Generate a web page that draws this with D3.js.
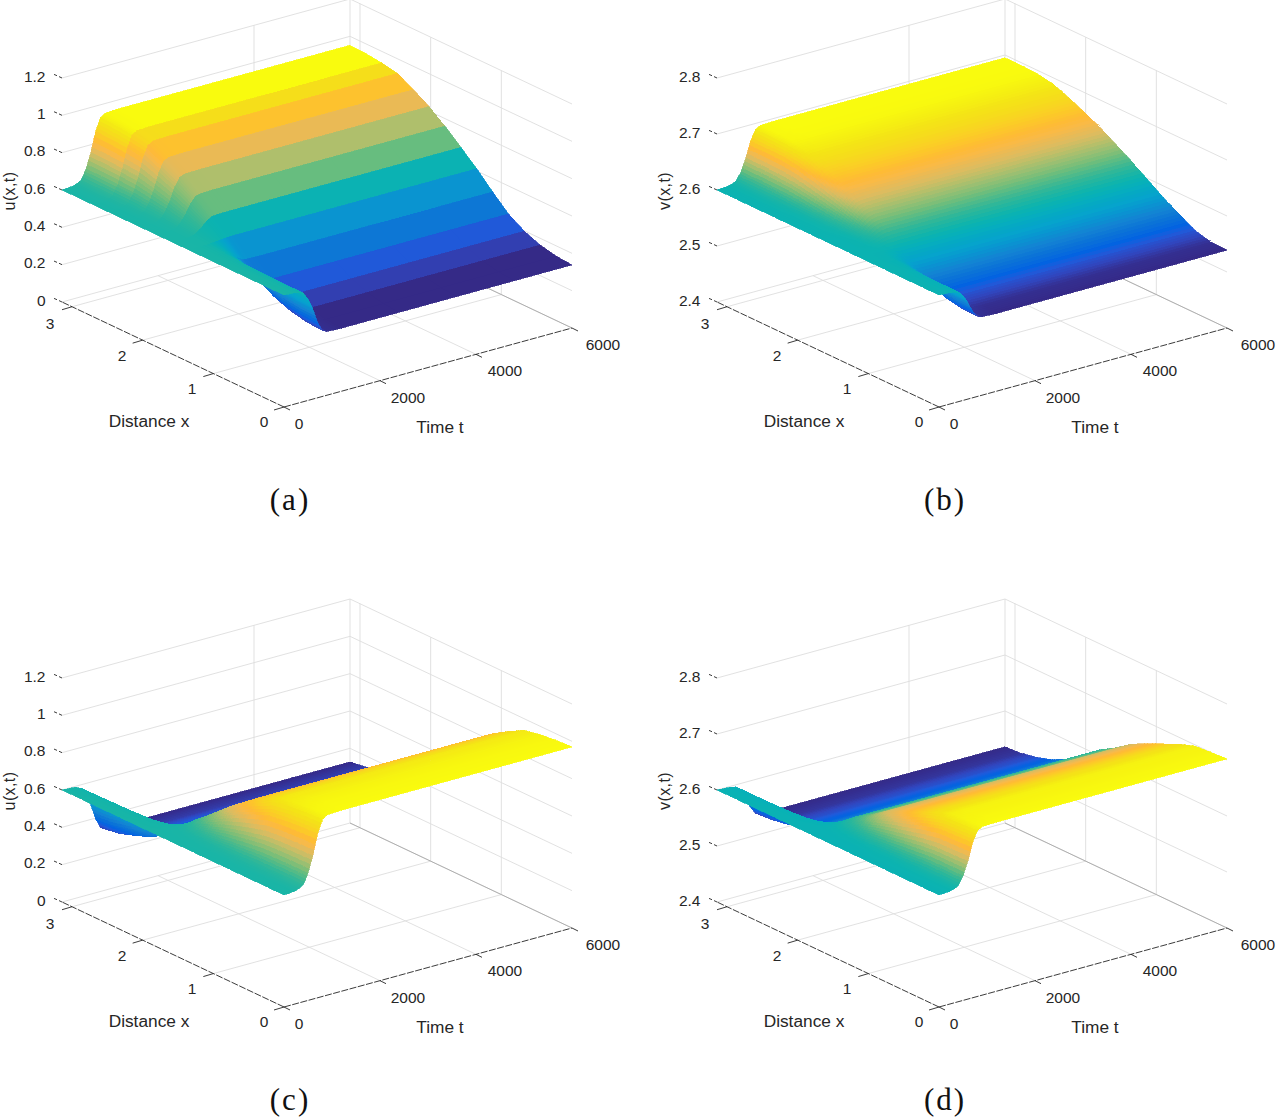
<!DOCTYPE html>
<html><head><meta charset="utf-8">
<script src="https://cdn.jsdelivr.net/npm/d3@7"></script>
<style>html,body{margin:0;padding:0;background:#fff}svg{display:block}</style>
</head><body><svg id="c" width="1276" height="1119"></svg>
<script>
// Mesh nodes
const xNodes = d3.range(15).map(i => i * Math.PI / 14);
const tNodes = [0,200,300,400,500,600,700,800,900,1200,6000];
const xTicks = [0,1,2,3];
const tTicks = [0,2000,4000,6000];
const uTicks = [0,0.2,0.4,0.6,0.8,1,1.2];
const vTicks = [2.4,2.5,2.6,2.7,2.8];
// mesh position whose value colours each x cell in panel (a)
const bandNode = [0,0,1.42,2.32,3.69,4.41,5.58,6.78,7.49,8.31,9.2,10.4,14,14];

// rows: t, columns: x
const uA = [
[.6,.6,.6,.6,.6,.6,.6,.6,.6,.6,.6,.6,.6,.6,.6],
[.597,.597,.598,.598,.599,.599,.6,.601,.602,.602,.603,.603,.603,.603,.604],
[.592,.592,.593,.594,.596,.598,.6,.603,.605,.607,.608,.61,.61,.61,.611],
[.582,.582,.583,.586,.59,.595,.601,.606,.611,.616,.619,.623,.624,.624,.625],
[.542,.544,.548,.556,.567,.584,.603,.619,.635,.65,.661,.671,.674,.677,.677],
[.482,.485,.494,.509,.533,.568,.605,.639,.672,.701,.724,.745,.752,.757,.758],
[.404,.409,.423,.449,.488,.546,.609,.665,.72,.769,.806,.842,.854,.861,.864],
[.354,.36,.378,.41,.459,.532,.611,.681,.75,.812,.859,.903,.918,.927,.931],
[.341,.348,.366,.4,.452,.529,.612,.685,.758,.823,.872,.919,.935,.945,.948],
[.338,.345,.364,.398,.45,.528,.612,.686,.76,.825,.875,.922,.938,.948,.952],
[.338,.345,.364,.398,.45,.528,.612,.686,.76,.825,.875,.922,.938,.948,.952]];
const vB = [
[2.6,2.6,2.6,2.6,2.6,2.6,2.6,2.6,2.6,2.6,2.6,2.6,2.6,2.6,2.6],
[2.599,2.599,2.599,2.6,2.6,2.6,2.6,2.6,2.601,2.601,2.601,2.601,2.601,2.601,2.601],
[2.598,2.598,2.598,2.599,2.599,2.6,2.601,2.601,2.602,2.602,2.602,2.603,2.603,2.603,2.603],
[2.596,2.596,2.596,2.597,2.599,2.6,2.601,2.602,2.604,2.605,2.605,2.606,2.607,2.607,2.607],
[2.587,2.587,2.588,2.592,2.595,2.6,2.604,2.607,2.611,2.614,2.617,2.62,2.621,2.621,2.621],
[2.573,2.573,2.576,2.583,2.591,2.599,2.608,2.615,2.623,2.629,2.635,2.64,2.642,2.643,2.643],
[2.554,2.555,2.56,2.572,2.584,2.599,2.613,2.626,2.638,2.649,2.659,2.667,2.671,2.671,2.671],
[2.543,2.544,2.55,2.565,2.58,2.598,2.616,2.632,2.648,2.661,2.673,2.684,2.688,2.689,2.689],
[2.54,2.541,2.548,2.563,2.579,2.598,2.617,2.634,2.65,2.664,2.677,2.688,2.693,2.694,2.694],
[2.539,2.54,2.547,2.563,2.579,2.598,2.617,2.634,2.651,2.665,2.678,2.689,2.694,2.695,2.695],
[2.539,2.54,2.547,2.563,2.579,2.598,2.617,2.634,2.651,2.665,2.678,2.689,2.694,2.695,2.695]];
const uC = [
[.6,.6,.6,.6,.6,.6,.6,.6,.6,.6,.6,.6,.6,.6,.6],
[.604,.604,.604,.603,.603,.602,.602,.601,.6,.599,.599,.598,.598,.597,.597],
[.611,.611,.611,.61,.609,.607,.605,.603,.601,.598,.596,.594,.593,.592,.592],
[.626,.626,.625,.624,.62,.617,.612,.607,.602,.596,.59,.586,.584,.582,.581],
[.681,.68,.678,.674,.664,.653,.639,.622,.606,.587,.569,.557,.549,.543,.54],
[.767,.764,.76,.752,.731,.708,.679,.645,.611,.573,.537,.512,.497,.483,.477],
[.878,.874,.866,.854,.819,.78,.731,.675,.619,.555,.495,.454,.428,.405,.395],
[.948,.943,.934,.918,.874,.826,.765,.694,.624,.544,.468,.417,.384,.356,.343],
[.966,.961,.951,.935,.889,.838,.773,.699,.625,.541,.461,.407,.372,.343,.33],
[.97,.965,.955,.938,.892,.84,.775,.7,.625,.54,.46,.405,.37,.34,.327],
[.97,.965,.955,.938,.892,.84,.775,.7,.625,.54,.46,.405,.37,.34,.327]];
const vD = [
[2.6,2.6,2.6,2.6,2.6,2.6,2.6,2.6,2.6,2.6,2.6,2.6,2.6,2.6,2.6],
[2.601,2.601,2.601,2.601,2.601,2.601,2.6,2.6,2.6,2.6,2.6,2.6,2.599,2.599,2.599],
[2.603,2.603,2.603,2.603,2.602,2.602,2.601,2.601,2.6,2.6,2.599,2.599,2.598,2.598,2.598],
[2.607,2.607,2.607,2.606,2.605,2.604,2.603,2.602,2.601,2.599,2.598,2.597,2.596,2.596,2.596],
[2.622,2.622,2.622,2.619,2.617,2.614,2.611,2.606,2.602,2.597,2.593,2.59,2.588,2.586,2.586],
[2.646,2.645,2.644,2.64,2.634,2.628,2.622,2.613,2.605,2.595,2.586,2.579,2.575,2.572,2.571],
[2.677,2.675,2.674,2.666,2.656,2.647,2.636,2.621,2.608,2.591,2.576,2.565,2.558,2.554,2.552],
[2.696,2.694,2.692,2.683,2.671,2.658,2.645,2.626,2.61,2.589,2.57,2.556,2.547,2.542,2.54],
[2.701,2.699,2.697,2.687,2.674,2.661,2.648,2.628,2.611,2.588,2.568,2.553,2.545,2.539,2.537],
[2.702,2.70,2.698,2.688,2.675,2.662,2.648,2.628,2.611,2.588,2.568,2.553,2.544,2.538,2.536],
[2.702,2.70,2.698,2.688,2.675,2.662,2.648,2.628,2.611,2.588,2.568,2.553,2.544,2.538,2.536]];

// Parula colour map stops
const parula = ["#352a87","#3145bd","#1f5bdb","#0363e1","#086ddb","#0d77d5","#1482d4","#0d8ed1","#0899d0","#06a3cd","#05a7c6","#06acc0","#07b1b7","#0fb4ad","#1eb5a3","#2eb799","#45b98e","#5fbc82","#7cbe78","#95bf73","#aebf6c","#c5be67","#dcbc60","#e9ba56","#f9ba48","#feba37","#fdc32d","#fbcd26","#f8d620","#f5de1a","#f4e416","#f5ef12","#f9fb0e"];
const parulaPos = parula.map((_, i) => i / (parula.length - 1));

const panels = [
  {name:"(a)", ox:0,   oy:0,   data:uA, zDom:[0,1.2],   zT:uTicks, zLab:"u(x,t)", bands:true,  fmt:d=>String(d)},
  {name:"(b)", ox:655, oy:0,   data:vB, zDom:[2.4,2.8], zT:vTicks, zLab:"v(x,t)", bands:false, fmt:d=>d.toFixed(1)},
  {name:"(c)", ox:0,   oy:600, data:uC, zDom:[0,1.2],   zT:uTicks, zLab:"u(x,t)", bands:false, fmt:d=>String(d)},
  {name:"(d)", ox:655, oy:600, data:vD, zDom:[2.4,2.8], zT:vTicks, zLab:"v(x,t)", bands:false, fmt:d=>d.toFixed(1)}
];

const XMAX = Math.PI, TMAX = 6000;
const xSx = d3.scaleLinear([0,XMAX],[284,62]);
const xSy = d3.scaleLinear([0,XMAX],[407,302]);
const tSx = d3.scaleLinear([0,TMAX],[0,288]);
const tSy = d3.scaleLinear([0,TMAX],[0,-79]);
const FONT = "'Liberation Sans', Arial, sans-serif";
const svg = d3.select("#c");
const GRID = "#dedede", BOXG = "#a8a8a8", INK = "#262626";

panels.forEach(p => {
  const g = svg.append("g").attr("transform", `translate(${p.ox},${p.oy})`);
  const zS = d3.scaleLinear(p.zDom,[0,-224]);
  const P = (x,t,z) => [xSx(x)+tSx(t), xSy(x)+tSy(t)+zS(z)];
  const flat = p.data.flat();
  const color = d3.scaleLinear()
    .domain(parulaPos.map(d3.scaleLinear([0,1], d3.extent(flat))))
    .range(parula).interpolate(d3.interpolateRgb);
  const z0 = p.zDom[0], z1 = p.zDom[1];

  // grid
  const segs = [];
  p.zT.forEach(z => {
    segs.push({a:[XMAX,0,z], b:[XMAX,TMAX,z], c:GRID});
    segs.push({a:[XMAX,TMAX,z], b:[0,TMAX,z], c:GRID});
  });
  [1,2,3].forEach(x => {
    segs.push({a:[x,0,z0], b:[x,TMAX,z0], c:GRID});
    segs.push({a:[x,TMAX,z0], b:[x,TMAX,z1], c:GRID});
  });
  [2000,4000].forEach(t => segs.push({a:[0,t,z0], b:[XMAX,t,z0], c:GRID}));
  segs.push({a:[XMAX,4000,z0], b:[XMAX,4000,z1], c:GRID});
  segs.push({a:[XMAX,TMAX,z0], b:[XMAX,TMAX,z1], c:GRID});
  segs.push({a:[XMAX,TMAX,z0], b:[0,TMAX,z0], c:BOXG});
  g.append("g").selectAll("line").data(segs).join("line")
    .attr("x1",d=>P(...d.a)[0]).attr("y1",d=>P(...d.a)[1])
    .attr("x2",d=>P(...d.b)[0]).attr("y2",d=>P(...d.b)[1])
    .attr("stroke",d=>d.c).attr("stroke-width",0.9);

  // surface: far cells first
  const subX = p.bands ? 1 : 6, subT = 4;
  const val = (fi,fj) => {
    const i = Math.min(Math.floor(fi),13), j = Math.min(Math.floor(fj),tNodes.length-2);
    const a = fi-i, b = fj-j, D = p.data;
    return (D[j][i]*(1-a)+D[j][i+1]*a)*(1-b)+(D[j+1][i]*(1-a)+D[j+1][i+1]*a)*b;
  };
  const nodeX = fi => { const i=Math.min(Math.floor(fi),13); return xNodes[i]+(xNodes[i+1]-xNodes[i])*(fi-i); };
  const nodeT = fj => { const j=Math.min(Math.floor(fj),tNodes.length-2); return tNodes[j]+(tNodes[j+1]-tNodes[j])*(fj-j); };
  const quads = [];
  for (let i = 13; i >= 0; i--) for (let si = subX-1; si >= 0; si--) {
    for (let j = tNodes.length-2; j >= 0; j--) for (let sj = subT-1; sj >= 0; sj--) {
      const a0=i+si/subX, a1=i+(si+1)/subX, b0=j+sj/subT, b1=j+(sj+1)/subT;
      const pts=[[a0,b0],[a1,b0],[a1,b1],[a0,b1]];
      const v=p.bands ? val(bandNode[i],(b0+b1)/2) : d3.mean(pts,q=>val(q[0],q[1]));
      quads.push({pts:pts.map(q=>P(nodeX(q[0]),nodeT(q[1]),val(q[0],q[1]))), v});
    }
  }
  g.append("g").attr("shape-rendering","crispEdges").selectAll("path").data(quads).join("path")
    .attr("d",d=>"M"+d.pts.map(q=>q[0].toFixed(2)+","+q[1].toFixed(2)).join("L")+"Z")
    .attr("fill",d=>color(d.v)).attr("stroke",d=>color(d.v)).attr("stroke-width",0.7);

  // axes
  const ax = g.append("g").attr("stroke",INK).attr("stroke-width",0.9);
  const line = (a,b,dash) => ax.append("line").attr("x1",a[0]).attr("y1",a[1]).attr("x2",b[0]).attr("y2",b[1]).attr("stroke-dasharray",dash||null);
  line(P(0,0,z0),P(XMAX,0,z0),"7 1.5");
  line(P(0,0,z0),P(0,TMAX,z0),"7 1.5");
  xTicks.forEach(x => { const q=P(x,0,z0); line(q,[q[0]-10,q[1]+3]); });
  tTicks.forEach(t => { const q=P(0,t,z0); line(q,[q[0]+6,q[1]+3]); });
  p.zT.forEach(z => { const q=P(XMAX,0,z); line(q,[q[0]-3,q[1]-1.4]); line([q[0]-5,q[1]-2.3],[q[0]-8,q[1]-3.6]); });

  // text
  const txt = (s,x,y,anchor,size,fam) => g.append("text").attr("x",x).attr("y",y+1.5).attr("text-anchor",anchor)
    .attr("dominant-baseline","middle").attr("font-family",fam||FONT).attr("font-size",size).attr("fill",INK).text(s);
  p.zT.forEach(z => txt(p.fmt(z),45.5,P(XMAX,0,z)[1]-2,"end",15.5));
  const xLabPos = {0:[264,421],1:[192,388],2:[122,355],3:[50,323]};
  xTicks.forEach(x => txt(String(x),xLabPos[x][0],xLabPos[x][1],"middle",15.5));
  const tLabPos = {0:[299,423],2000:[408,397],4000:[505,370],6000:[603,344]};
  tTicks.forEach(t => txt(String(t),tLabPos[t][0],tLabPos[t][1],"middle",15.5));
  txt("Distance x",149,421,"middle",17.3);
  txt("Time t",440,427,"middle",17.3);
  g.append("text").attr("transform","translate(10.5,191) rotate(-90)").attr("text-anchor","middle")
    .attr("dominant-baseline","middle").attr("font-family",FONT).attr("font-size",16).attr("letter-spacing",0.4).attr("fill",INK).text(p.zLab);
  g.append("text").attr("x",290).attr("y",503).attr("text-anchor","middle").attr("dominant-baseline","middle")
    .attr("font-family","'Liberation Serif', serif").attr("font-size",31).attr("letter-spacing",2).attr("fill","#111").text(p.name);
});
</script></body></html>
